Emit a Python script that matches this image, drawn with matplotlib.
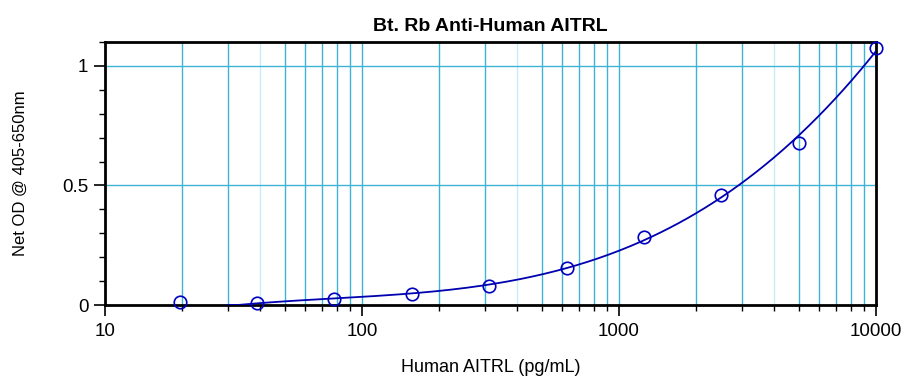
import matplotlib
matplotlib.use("Agg")
import matplotlib.pyplot as plt
import numpy as np

# standards (pg/mL) and measured net OD
conc = [19.5, 39, 78, 156, 312, 625, 1250, 2500, 5000, 10000]
od = [0.012, 0.010, 0.025, 0.046, 0.080, 0.155, 0.285, 0.460, 0.678, 1.075]

title = "Bt. Rb Anti-Human AITRL"
xlabel = "Human AITRL (pg/mL)"
ylabel = "Net OD @ 405-650nm"
curve_start = 30

plt.rcParams['font.family'] = ['Liberation Sans', 'DejaVu Sans']

fig = plt.figure(figsize=(9.10, 3.86), dpi=100)
ax = fig.add_axes([105 / 910, 1 - 305 / 386, 771 / 910, 263 / 386])

ax.set_xscale('log')
ax.set_xlim(10, 10000)
ax.set_ylim(0, 1.1)

# vertical grid at every minor/major decade step
grid_col = '#3fb3d6'
light_col = '#c8ecf8'
for dec in [10, 100, 1000]:
    for k in range(1, 10):
        v = dec * k
        if v <= 10 or v >= 10000:
            continue
        c = light_col if k == 4 else grid_col
        ax.axvline(v, color=c, lw=1.0, zorder=1)
for v in [0.5, 1.0]:
    ax.axhline(v, color=grid_col, lw=1.0, zorder=1)

# smooth fit through the standards used for the curve (cubic in log conc)
use = [i for i, c in enumerate(conc) if c >= curve_start]
lx = np.log10([conc[i] for i in use])
coef = np.polyfit(lx, [od[i] for i in use], 3)
xs = np.geomspace(curve_start, conc[-1], 300)
ys = np.clip(np.polyval(coef, np.log10(xs)), 0, None)
ax.plot(xs, ys, color='#0000b0', lw=1.3, zorder=3)
ax.plot(conc, od, 'o', mfc='none', mec='#0000c0', ms=9, mew=1.2, zorder=4, clip_on=False)

ax.set_xticks([10, 100, 1000, 10000])
ax.set_xticklabels(['10', '100', '1000', '10000'])
ax.xaxis.set_minor_locator(matplotlib.ticker.LogLocator(base=10, subs=np.arange(2, 10)))
ax.xaxis.set_minor_formatter(matplotlib.ticker.NullFormatter())
ax.set_yticks([0, 0.5, 1])
ax.set_yticklabels(['0', '0.5', '1'])
ax.yaxis.set_minor_locator(matplotlib.ticker.MultipleLocator(0.1))

ax.tick_params(which='major', direction='out', length=8, width=1.2, labelsize=13.5, pad=4)
ax.tick_params(which='minor', direction='out', length=4, width=1.0)
ax.tick_params(axis='x', which='major', pad=5)

for s in ax.spines.values():
    s.set_linewidth(2.0)
    s.set_color('black')

ax.set_title(title, fontsize=14, fontweight='bold', pad=8)
ax.set_xlabel(xlabel, fontsize=13, va='center')
ax.xaxis.set_label_coords(0.5, -0.236)
ax.set_ylabel(ylabel, fontsize=12, va='center')
ax.yaxis.set_label_coords(-0.110, 0.5)

fig.savefig('out.png', dpi=100)
